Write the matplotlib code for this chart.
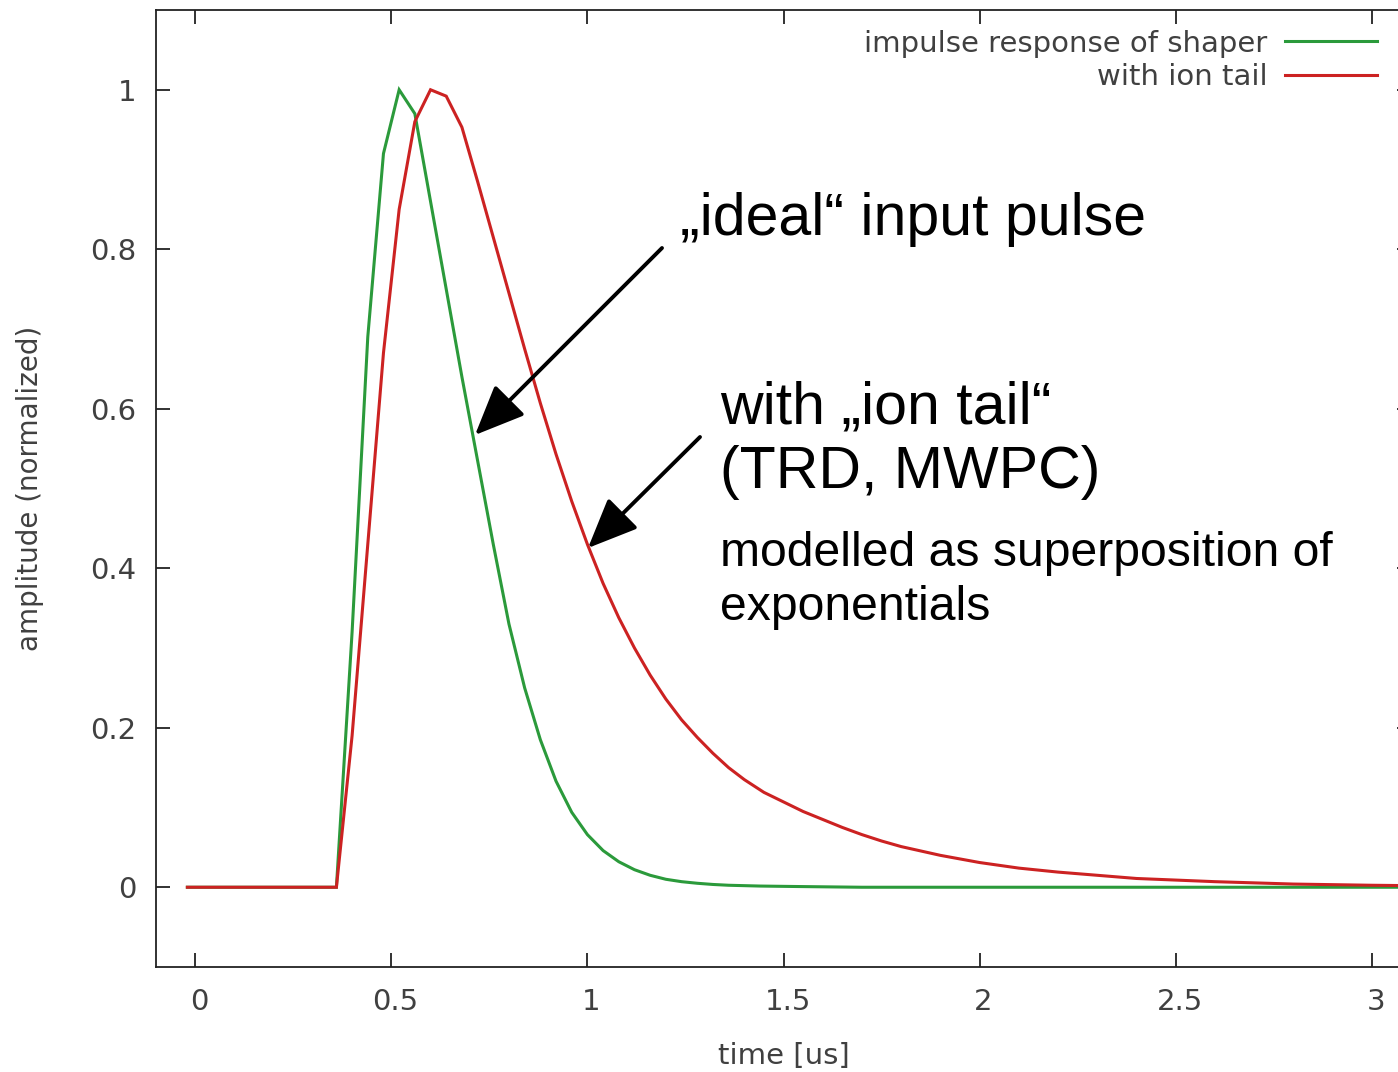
import matplotlib
matplotlib.use("Agg")
import matplotlib.pyplot as plt
import matplotlib.transforms as mtransforms

# ---------------- data ----------------
t_shaper = [-0.02, 0.36, 0.40, 0.44, 0.48, 0.52, 0.56, 0.60, 0.64, 0.68, 0.72,
            0.76, 0.80, 0.84, 0.88, 0.92, 0.96, 1.00, 1.04, 1.08, 1.12, 1.16,
            1.20, 1.24, 1.28, 1.32, 1.36, 1.44, 1.52, 1.70, 3.10]
y_shaper = [0.0, 0.0, 0.32, 0.69, 0.92, 1.00, 0.97, 0.86, 0.75, 0.64, 0.535,
            0.43, 0.33, 0.25, 0.185, 0.133, 0.094, 0.066, 0.046, 0.032, 0.022, 0.015,
            0.010, 0.007, 0.005, 0.0035, 0.0025, 0.0015, 0.001, 0.0, 0.0]

t_ion = [-0.02, 0.36, 0.40, 0.44, 0.48, 0.52, 0.56, 0.60, 0.64, 0.68, 0.72,
         0.76, 0.80, 0.84, 0.88, 0.92, 0.96, 1.00, 1.04, 1.08, 1.12, 1.16,
         1.20, 1.24, 1.28, 1.32, 1.36, 1.40, 1.45, 1.50, 1.55, 1.60, 1.65,
         1.70, 1.75, 1.80, 1.90, 2.00, 2.10, 2.20, 2.30, 2.40, 2.50, 2.60,
         2.80, 3.00, 3.10]
y_ion = [0.0, 0.0, 0.19, 0.43, 0.67, 0.85, 0.96, 1.00, 0.992, 0.953, 0.885,
         0.815, 0.745, 0.675, 0.607, 0.543, 0.484, 0.430, 0.381, 0.338, 0.300, 0.266,
         0.236, 0.210, 0.188, 0.168, 0.150, 0.135, 0.119, 0.107, 0.095, 0.085, 0.075,
         0.066, 0.058, 0.051, 0.040, 0.031, 0.024, 0.019, 0.015, 0.011, 0.009, 0.007,
         0.004, 0.0025, 0.002]

labels = ["impulse response of shaper", "with ion tail"]
x_ticks = [0, 0.5, 1, 1.5, 2, 2.5, 3]
x_ticklabels = ["0", "0.5", "1", "1.5", "2", "2.5", "3"]
y_ticks = [0, 0.2, 0.4, 0.6, 0.8, 1]
y_ticklabels = ["0", "0.2", "0.4", "0.6", "0.8", "1"]

# ---------------- figure ----------------
W, H = 1398, 1072
fig = plt.figure(figsize=(W / 100, H / 100), dpi=100)
plt.rcParams['font.family'] = ['DejaVu Sans']

def fx(px):
    return px / W

def fy(py):
    return 1 - py / H

ax = fig.add_axes([fx(156), fy(967), fx(1411) - fx(156), fy(10) - fy(967)])

green = "#2b9a3b"
red = "#cc2222"
ax.plot(t_shaper, y_shaper, color=green, lw=2.2, label=labels[0], solid_joinstyle='miter')
ax.plot(t_ion, y_ion, color=red, lw=2.2, label=labels[1], solid_joinstyle='miter')

ax.set_xlim(-0.1, 3.1)
ax.set_ylim(-0.1, 1.1)
ax.set_xticks(x_ticks)
ax.set_xticklabels(x_ticklabels)
ax.set_yticks(y_ticks)
ax.set_yticklabels(y_ticklabels)

tick_col = "#404040"
fs = 21
ax.tick_params(direction='in', length=10, width=1.3, top=True, right=True,
               labelsize=fs, labelcolor=tick_col, color="#222222")
ax.tick_params(axis='x', pad=15)
ax.tick_params(axis='y', pad=14)
for s in ax.spines.values():
    s.set_linewidth(1.3)
    s.set_color("#222222")

# gnuplot-like slight right shift of x tick labels
shift = mtransforms.ScaledTranslation(4 / 100, 0, fig.dpi_scale_trans)
for lab in ax.get_xticklabels():
    lab.set_transform(lab.get_transform() + shift)

ax.set_xlabel("time [us]", fontsize=fs, color=tick_col, labelpad=19)
ax.set_ylabel("amplitude (normalized)", fontsize=20, color=tick_col, labelpad=33)

leg = ax.legend(loc='upper right', bbox_to_anchor=(fx(1377), fy(29.5)),
                bbox_transform=fig.transFigure, frameon=False, markerfirst=False,
                fontsize=fs, handlelength=3.15, handletextpad=0.6,
                labelspacing=0.2, borderpad=0, borderaxespad=0)
for txt in leg.get_texts():
    txt.set_color(tick_col)

# ---------------- annotations ----------------
afont = ['Liberation Sans', 'DejaVu Sans']
fig.text(fx(680), fy(235), "\u201eideal\u201c input pulse", fontsize=42.5,
         family=afont, va='baseline', ha='left', color='black')
fig.text(fx(720), fy(424), "with \u201eion tail\u201c", fontsize=42.5,
         family=afont, va='baseline', ha='left', color='black')
fig.text(fx(720), fy(488), "(TRD, MWPC)", fontsize=42.5,
         family=afont, va='baseline', ha='left', color='black')
fig.text(fx(720), fy(566), "modelled as superposition of", fontsize=34.7,
         family=afont, va='baseline', ha='left', color='black')
fig.text(fx(720), fy(620), "exponentials", fontsize=34.7,
         family=afont, va='baseline', ha='left', color='black')

arrow_kw = dict(arrowstyle='-|>,head_length=1.4,head_width=0.6', color='black',
                lw=2.8, mutation_scale=22, shrinkA=0, shrinkB=0)
ax.annotate("", xy=(475, H - 435), xycoords='figure pixels',
            xytext=(662, H - 248), textcoords='figure pixels',
            arrowprops=arrow_kw)
ax.annotate("", xy=(588, H - 548), xycoords='figure pixels',
            xytext=(700, H - 437), textcoords='figure pixels',
            arrowprops=arrow_kw)

fig.savefig("out.png", dpi=100)
